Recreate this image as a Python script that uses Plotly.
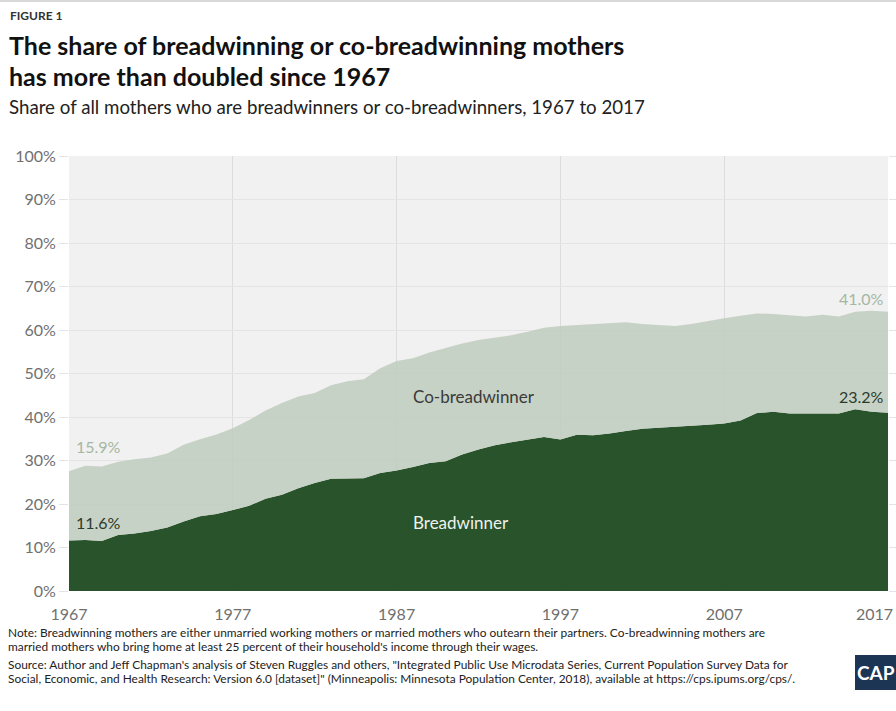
import plotly.graph_objects as go

years = list(range(1967, 2018))
breadwinner = [11.6, 11.7, 11.5, 12.9, 13.2, 13.8, 14.6, 16.0, 17.2, 17.7,
               18.6, 19.6, 21.2, 22.1, 23.6, 24.8, 25.8, 25.8, 25.9, 27.1,
               27.7, 28.5, 29.4, 29.8, 31.4, 32.5, 33.5, 34.2, 34.8, 35.4,
               34.8, 35.9, 35.8, 36.2, 36.8, 37.3, 37.5, 37.7, 37.9, 38.2,
               38.5, 39.2, 40.9, 41.2, 40.8, 40.8, 40.8, 40.8, 41.8, 41.2,
               41.0]
co_breadwinner = [15.9, 17.1, 17.1, 16.8, 17.1, 16.9, 17.0, 17.6, 17.7, 18.3,
                  18.8, 19.7, 20.3, 21.1, 21.1, 20.7, 21.5, 22.4, 22.8, 24.1,
                  25.2, 25.0, 25.4, 26.0, 25.5, 25.2, 24.8, 24.6, 24.8, 25.1,
                  26.1, 25.2, 25.5, 25.3, 25.0, 24.1, 23.7, 23.2, 23.5, 23.9,
                  24.2, 24.1, 22.9, 22.5, 22.6, 22.3, 22.7, 22.3, 22.4, 23.2,
                  23.2]
x_ticks = [1967, 1977, 1987, 1997, 2007, 2017]
x_labels = [str(v) for v in x_ticks]
y_ticks = [0, 10, 20, 30, 40, 50, 60, 70, 80, 90, 100]
y_labels = [f"{v}%" for v in y_ticks]

FONT = "Lato"
W, H = 896, 711
L, R, T, B = 69, 8, 156, 120
PW, PH = W - L - R, H - T - B


def px(x):
    return (x - L) / PW


def py(y):
    return (H - B - y) / PH


fig = go.Figure()
fig.add_trace(go.Scatter(
    x=years, y=breadwinner, stackgroup="s", mode="lines",
    line=dict(width=0), fillcolor="rgba(30,74,32,0.95)", hoverinfo="skip",
    name="Breadwinner"))
fig.add_trace(go.Scatter(
    x=years, y=co_breadwinner, stackgroup="s", mode="lines",
    line=dict(width=0), fillcolor="rgba(192,205,191,0.88)", hoverinfo="skip",
    name="Co-breadwinner"))

ann = []


def text(x, y, s, size, color, xanchor="left", bold=False, family=FONT):
    ann.append(dict(x=px(x), y=py(y), xref="paper", yref="paper", text=s,
                    showarrow=False, xanchor=xanchor, yanchor="middle",
                    align="left",
                    font=dict(size=size, color=color, family=family,
                              weight=700 if bold else 400)))


text(8, 15, "FIGURE 1", 12, "#333333", bold=True)
text(7, 45, "The share of breadwinning or co-breadwinning mothers", 25, "#111111", bold=True)
text(7, 76, "has more than doubled since 1967", 25, "#111111", bold=True)
text(7, 107, "Share of all mothers who are breadwinners or co-breadwinners, 1967 to 2017", 18.7, "#222222")

text(74, 446, "15.9%", 16, "#a4b7a2")
text(74, 522, "11.6%", 16, "#2b3b2b")
text(411, 396, "Co-breadwinner", 17, "#3a3a3a")
text(411, 522, "Breadwinner", 17, "#eef2ee")
text(886, 298, "41.0%", 16, "#a4b7a2", xanchor="right")
text(886, 396, "23.2%", 16, "#2b3b2b", xanchor="right")

# last x tick label sits flush against the right edge in the original
text(895, 613, x_labels[-1], 16, "#707070", xanchor="right")

FN = 11.9
text(6, 632, "Note: Breadwinning mothers are either unmarried working mothers or married mothers who outearn their partners. Co-breadwinning mothers are", FN, "#222222")
text(6, 646, "married mothers who bring home at least 25 percent of their household's income through their wages.", FN, "#222222")
text(6, 664, "Source: Author and Jeff Chapman's analysis of Steven Ruggles and others, \"Integrated Public Use Microdata Series, Current Population Survey Data for", FN, "#222222")
text(6, 678, "Social, Economic, and Health Research: Version 6.0 [dataset]\" (Minneapolis: Minnesota Population Center, 2018), available at https://cps.ipums.org/cps/.", FN, "#222222")

fig.add_shape(type="rect", xref="paper", yref="paper",
              x0=px(855), x1=px(897), y0=py(690), y1=py(655),
              fillcolor="#1d3554", line=dict(width=0), layer="above")
text(876, 672, "CAP", 19, "#ffffff", xanchor="center", bold=True)
fig.add_shape(type="line", xref="paper", yref="paper",
              x0=px(0), x1=px(W), y0=py(1), y1=py(1),
              line=dict(color="#d9d9d9", width=2))

fig.update_layout(
    width=W, height=H,
    margin=dict(l=L, r=R, t=T, b=B, pad=0, autoexpand=False),
    paper_bgcolor="#ffffff", plot_bgcolor="#f1f1f1",
    showlegend=False, annotations=ann,
    font=dict(family=FONT),
)
fig.update_xaxes(
    range=[1967, 2017], tickvals=x_ticks, ticktext=x_labels[:-1] + [""],
    showgrid=True, gridcolor="#dcdcdc", gridwidth=1, zeroline=False,
    showline=False, ticks="outside", ticklen=9, tickcolor="rgba(0,0,0,0)",
    tickfont=dict(size=16, color="#707070", family=FONT),
    automargin=False, fixedrange=True,
)
fig.update_yaxes(
    range=[0, 100], tickvals=y_ticks, ticktext=y_labels,
    showgrid=True, gridcolor="#e4e4e4", gridwidth=1, zeroline=False,
    showline=False, ticks="outside", ticklen=9, tickcolor="#e4e4e4",
    mirror="ticks", automargin=False,
    tickfont=dict(size=16, color="#707070", family=FONT), fixedrange=True,
)

fig.write_html("out.html", config={"displayModeBar": False},
               post_script="document.body.style.margin='0';document.body.style.overflow='hidden';")
